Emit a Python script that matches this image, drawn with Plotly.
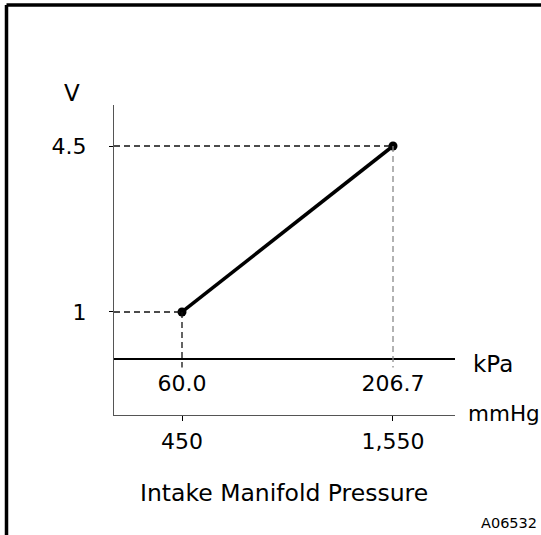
import plotly.graph_objects as go

# Sensor characteristic: output voltage vs. intake manifold pressure
pressure_kpa = [60.0, 206.7]
pressure_kpa_labels = ["60.0", "206.7"]
pressure_mmhg = [450, 1550]
pressure_mmhg_labels = ["450", "1,550"]
voltage = [1, 4.5]
voltage_labels = ["1", "4.5"]

KPA_TO_MMHG = 7.50062

FIG_W, FIG_H = 541, 535
# plot area in pixels
L, R, T, B = 114, 455, 105, 415
W, H = R - L, B - T

X_RANGE = [12.72, 249.8]
Y_RANGE = [-1.172, 5.3645]

FONT = "DejaVu Sans"


def paper_x(px):
    return (px - L) / W


def paper_y(py):
    return (B - py) / H


fig = go.Figure()

# dashed guides from the axis to each point and down through the kPa axis
guide_dash = "6px,4px"
for i, (x, y) in enumerate(zip(pressure_kpa, voltage)):
    fig.add_shape(type="line", xref="x", yref="y",
                  x0=X_RANGE[0], x1=x, y0=y, y1=y,
                  line=dict(color="#111111", width=1.3, dash=guide_dash))
    fig.add_shape(type="line", xref="x", yref="y",
                  x0=x, x1=x, y0=y, y1=-0.17,
                  line=dict(color="#111111" if i == 0 else "#8a8a8a",
                            width=1.3, dash=guide_dash))

# characteristic line
fig.add_trace(go.Scatter(
    x=pressure_kpa, y=voltage, mode="lines+markers",
    line=dict(color="black", width=3.5),
    marker=dict(color="black", size=9),
    showlegend=False, hoverinfo="skip",
))

# invisible trace carrying the mmHg axis
fig.add_trace(go.Scatter(
    x=pressure_mmhg, y=voltage, xaxis="x2", mode="markers",
    marker=dict(opacity=0), showlegend=False, hoverinfo="skip",
))

kpa_axis_pos = (0 - Y_RANGE[0]) / (Y_RANGE[1] - Y_RANGE[0])

fig.update_layout(
    width=FIG_W, height=FIG_H,
    margin=dict(l=L, r=FIG_W - R, t=T, b=FIG_H - B, pad=0),
    paper_bgcolor="white", plot_bgcolor="white",
    font=dict(family=FONT, color="black", size=22),
    xaxis=dict(
        range=X_RANGE, anchor="free", position=kpa_axis_pos,
        showline=True, linecolor="black", linewidth=1.6,
        showgrid=False, zeroline=False,
        tickmode="array", tickvals=pressure_kpa, ticktext=pressure_kpa_labels,
        ticks="", tickfont=dict(family=FONT, size=22), ticklabelstandoff=4,
    ),
    xaxis2=dict(
        range=[X_RANGE[0] * KPA_TO_MMHG, X_RANGE[1] * KPA_TO_MMHG],
        overlaying="x", side="bottom", anchor="y",
        showline=True, linecolor="#555555", linewidth=1,
        showgrid=False, zeroline=False,
        tickmode="array", tickvals=pressure_mmhg, ticktext=pressure_mmhg_labels,
        ticks="outside", ticklen=5, tickcolor="black", tickwidth=1.2,
        tickfont=dict(family=FONT, size=22), ticklabelstandoff=2,
    ),
    yaxis=dict(
        range=Y_RANGE,
        showline=True, linecolor="#555555", linewidth=1,
        showgrid=False, zeroline=False,
        tickmode="array", tickvals=voltage, ticktext=voltage_labels,
        ticks="outside", ticklen=4, tickcolor="black", tickwidth=1.2,
        tickfont=dict(family=FONT, size=22), ticklabelstandoff=18,
    ),
)

annotations = [
    dict(text="V", x=paper_x(72), y=paper_y(93), xanchor="center", yanchor="middle",
         font=dict(size=23)),
    dict(text="kPa", x=paper_x(471), y=paper_y(364), xanchor="left", yanchor="middle",
         font=dict(size=23)),
    dict(text="mmHg", x=paper_x(466), y=paper_y(413), xanchor="left", yanchor="middle",
         font=dict(size=21.5)),
    dict(text="Intake Manifold Pressure", x=paper_x(284), y=paper_y(493),
         xanchor="center", yanchor="middle", font=dict(size=23.5)),
    dict(text="A06532", x=paper_x(539), y=paper_y(523), xanchor="right", yanchor="middle",
         font=dict(size=14.5)),
]
for a in annotations:
    a.update(xref="paper", yref="paper", showarrow=False)
fig.update_layout(annotations=annotations)

# frame (top and left edges)
frame = dict(color="black", width=3.5)
fig.add_shape(type="line", xref="paper", yref="paper",
              x0=paper_x(6.5), x1=paper_x(545), y0=paper_y(5), y1=paper_y(5), line=frame)
fig.add_shape(type="line", xref="paper", yref="paper",
              x0=paper_x(6.5), x1=paper_x(6.5), y0=paper_y(5), y1=paper_y(540), line=frame)

fig.write_html("out.html")
